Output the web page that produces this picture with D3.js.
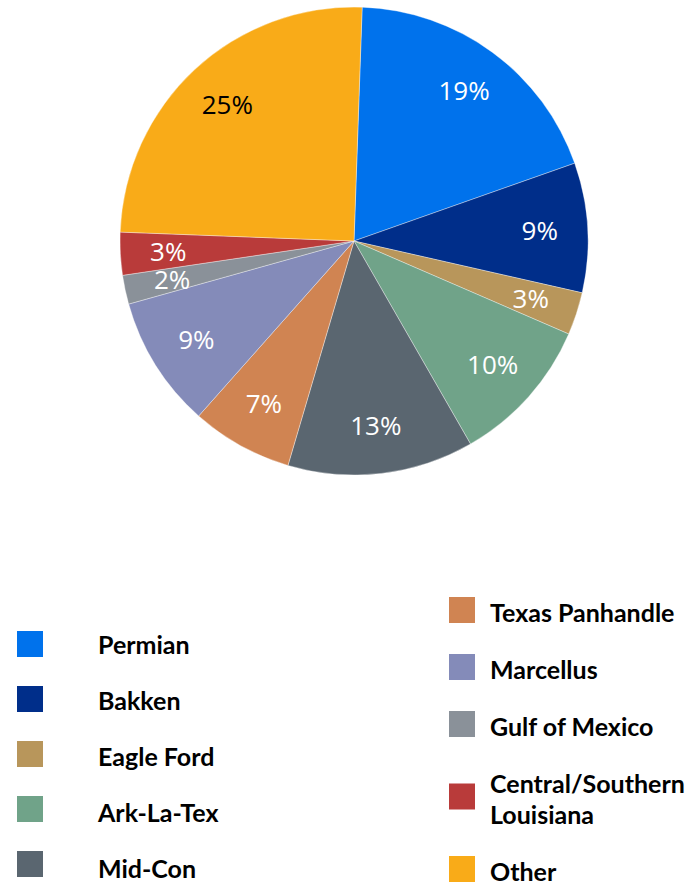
<!DOCTYPE html>
<html>
<head>
<meta charset="utf-8">
<style>
    body { margin: 0; background: #fff; }
    svg { display: block; }
    .slice-label { font-family: "Open Sans", "Noto Sans", sans-serif; font-size: 26px; }
    .legend text { font-family: Lato, "Noto Sans", sans-serif; font-weight: bold; font-size: 25px; fill: #000; }
</style>
</head>
<body>
<svg width="697" height="884"></svg>
<script src="https://d3js.org/d3.v7.min.js"></script>
<script>
    // shares (percent), in drawing order clockwise from the top
    let regions = ["Permian", "Bakken", "Eagle Ford", "Ark-La-Tex", "Mid-Con",
        "Texas Panhandle", "Marcellus", "Gulf of Mexico", "Central/Southern Louisiana", "Other"];
    let shares = [19.05, 8.95, 2.95, 10.2, 12.85, 7.0, 9.1, 2.0, 2.95, 24.95];
    let labels = ["19%", "9%", "3%", "10%", "13%", "7%", "9%", "2%", "3%", "25%"];
    let colors = ["#0072EC", "#002E8A", "#B8965B", "#70A389", "#5A6670",
        "#D08452", "#848BB9", "#8A9199", "#B93B3A", "#F9AB18"];

    let svg = d3.select("svg");

    let cx = 354, cy = 241, radius = 234;
    let startAngle = 2 * Math.PI / 180;

    let pie = d3.pie()
        .sort(null)
        .value(d => d.value)
        .startAngle(startAngle)
        .endAngle(startAngle + 2 * Math.PI);

    let data = regions.map((r, i) => ({ name: r, value: shares[i], label: labels[i], color: colors[i] }));
    let arcs = pie(data);

    let arc = d3.arc().innerRadius(0).outerRadius(radius);
    let labelArc = d3.arc().innerRadius(186).outerRadius(186);

    let g = svg.append("g").attr("transform", `translate(${cx},${cy})`);

    g.selectAll("path")
        .data(arcs)
        .join("path")
        .attr("d", arc)
        .style("fill", d => d.data.color)
        .style("stroke", "rgba(255,255,255,0.6)")
        .style("stroke-width", 0.6);

    g.selectAll("text")
        .data(arcs)
        .join("text")
        .attr("class", "slice-label")
        .attr("transform", d => `translate(${labelArc.centroid(d)})`)
        .attr("text-anchor", "middle")
        .attr("dy", "0.36em")
        .style("fill", d => d.data.name == "Other" ? "#000" : "#fff")
        .text(d => d.data.label);

    // legend: two columns, Excel style
    let legend = svg.append("g").attr("class", "legend");
    let leftCol = data.slice(0, 5);
    let rightCol = data.slice(5);
    let sq = 26;

    leftCol.forEach(function (d, i) {
        let y = 645 + 56 * i;
        legend.append("rect")
            .attr("x", 17).attr("y", y - sq / 2 - 1 - i)
            .attr("width", sq).attr("height", sq)
            .style("fill", d.color);
        legend.append("text")
            .attr("x", 98).attr("y", y)
            .attr("dy", "0.35em")
            .text(d.name);
    });

    let y = 613;
    rightCol.forEach(function (d) {
        let lines = d.name == "Central/Southern Louisiana" ? ["Central/Southern", "Louisiana"] : [d.name];
        let mid = y + (lines.length - 1) * 31 / 2;
        legend.append("rect")
            .attr("x", 449).attr("y", mid - sq / 2 - 3)
            .attr("width", sq).attr("height", sq)
            .style("fill", d.color);
        lines.forEach(function (t, j) {
            legend.append("text")
                .attr("x", 490).attr("y", y + j * 31)
                .attr("dy", "0.35em")
                .text(t);
        });
        y += (lines.length - 1) * 31 + 57;
    });
</script>
</body>
</html>
